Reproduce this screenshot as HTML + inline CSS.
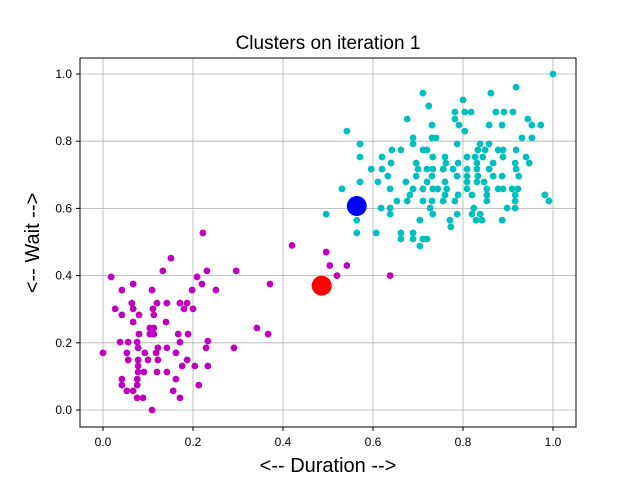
<!DOCTYPE html>
<html><head><meta charset="utf-8"><style>body{margin:0;background:#fff}svg{display:block}</style></head>
<body>
<svg id="chart" width="640" height="480" xmlns="http://www.w3.org/2000/svg" font-family="Liberation Sans, DejaVu Sans, sans-serif">
<rect width="640" height="480" fill="#fff"/>
<text x="328" y="49" font-size="19" text-anchor="middle">Clusters on iteration 1</text>
<text x="328" y="472" font-size="20" text-anchor="middle">&lt;-- Duration --&gt;</text>
<text transform="translate(39,243) rotate(-90)" font-size="20" text-anchor="middle">&lt;-- Wait --&gt;</text>
<g id="grid"></g>
<g id="pts"></g>
<rect x="80" y="58" width="496" height="369" fill="none" stroke="#000" stroke-width="1"/>
<g id="ticks"></g>
</svg>
<script>
const xTicks=[0,0.2,0.4,0.6,0.8,1.0];
const yTicks=[0,0.2,0.4,0.6,0.8,1.0];
const tickLabels=["0.0","0.2","0.4","0.6","0.8","1.0"];
const c1x=[.222,.151,.133,.231,.296,.018,.209,.22,.067,.042,.109,.198,.251,.064,.12,.142,.171,.187,.027,.067,.111,.18,.2,.042,.08,.113,.067,.14,.104,.113,.08,.104,.113,.167,.189,.038,.056,.076,.171,.233,0,.053,.078,.122,.142,.229,.291,.093,.118,.162,.056,.078,.1,.122,.187,.078,.176,.204,.233,.078,.091,.12,.142,.042,.076,.162,.042,.076,.213,.053,.067,.156,.076,.089,.171,.109,.371,.342,.367,.42,.496,.504,.52,.542,.638];
const c1y=[.527,.452,.414,.414,.414,.396,.396,.375,.375,.357,.357,.357,.357,.318,.318,.318,.318,.318,.301,.301,.301,.301,.301,.283,.283,.283,.262,.262,.244,.244,.226,.226,.226,.226,.226,.202,.202,.202,.202,.205,.170,.170,.185,.185,.185,.185,.185,.170,.170,.170,.149,.149,.149,.149,.149,.131,.131,.131,.131,.113,.113,.113,.113,.092,.092,.092,.074,.074,.074,.057,.057,.057,.036,.036,.036,0,.375,.244,.226,.49,.47,.43,.40,.43,.40];
const c2x=[1,.918,.711,.862,.8,.724,.782,.804,.818,.873,.891,.911,.676,.782,.944,.731,.791,.858,.887,.953,.973,.542,.804,.689,.731,.74,.931,.953,.571,.689,.787,.838,.858,.642,.662,.711,.72,.833,.849,.878,.889,.918,.571,.62,.733,.76,.809,.827,.844,.889,.94,.64,.696,.762,.789,.831,.867,.916,.947,.596,.62,.7,.72,.733,.756,.778,.809,.831,.858,.918,.633,.696,.731,.787,.809,.833,.867,.887,.924,.571,.611,.673,.72,.76,.809,.831,.847,.531,.638,.689,.711,.733,.744,.764,.809,.853,.878,.889,.909,.922,.682,.76,.789,.82,.853,.916,.982,.653,.676,.711,.731,.756,.782,.853,.916,.991,.618,.638,.727,.824,.898,.916,.638,.733,.787,.82,.838,.564,.704,.771,.829,.842,.887,.773,.564,.607,.662,.689,.662,.689,.711,.72,.704,.496];
const c2y=[1,.961,.943,.943,.923,.905,.887,.887,.887,.887,.887,.887,.866,.866,.866,.848,.848,.848,.848,.848,.848,.83,.83,.81,.81,.81,.81,.81,.792,.792,.792,.792,.792,.774,.774,.774,.774,.774,.774,.774,.774,.774,.753,.753,.753,.753,.753,.753,.753,.753,.753,.735,.735,.735,.735,.735,.735,.735,.735,.717,.717,.717,.717,.717,.717,.717,.717,.717,.717,.717,.696,.696,.696,.696,.696,.696,.696,.696,.696,.679,.679,.679,.679,.679,.679,.679,.679,.658,.658,.658,.658,.658,.658,.658,.658,.658,.658,.658,.658,.658,.64,.64,.64,.64,.64,.64,.64,.622,.622,.622,.622,.622,.622,.622,.622,.622,.601,.601,.601,.601,.601,.601,.583,.583,.583,.583,.583,.565,.565,.565,.565,.565,.565,.545,.527,.527,.527,.527,.509,.509,.509,.509,.488,.583];
const centX=[0.486,0.564];
const centY=[0.37,0.607];
const centColors=["#ff0000","#0000ff"];
const NS="http://www.w3.org/2000/svg";
const X=v=>103+v*450, Y=v=>410-v*336;
const grid=document.getElementById('grid'),pts=document.getElementById('pts'),ticks=document.getElementById('ticks');
function mk(tag,attrs,parent){const e=document.createElementNS(NS,tag);for(const k in attrs)e.setAttribute(k,attrs[k]);parent.appendChild(e);return e;}
xTicks.forEach((t,i)=>{
  const g=mk('line',{x1:X(t),x2:X(t),y1:58,y2:427,stroke:'#b0b0b0','stroke-width':0.8},grid);
  
  
  const tk=mk('line',{x1:X(t),x2:X(t),y1:427,y2:431,stroke:'#000'},ticks);
  
  
  const tl=mk('text',{x:X(t),y:446,'font-size':12,'text-anchor':'middle'},ticks);tl.textContent=tickLabels[i];
  
  
});
yTicks.forEach((t,i)=>{
  const g=mk('line',{x1:80,x2:576,y1:Y(t),y2:Y(t),stroke:'#b0b0b0','stroke-width':0.8},grid);
  
  
  const tk=mk('line',{x1:76,x2:80,y1:Y(t),y2:Y(t),stroke:'#000'},ticks);
  
  
  const tl=mk('text',{x:72,y:Y(t)+4,'font-size':12,'text-anchor':'end'},ticks);tl.textContent=tickLabels[i];
  
  
});
c1x.forEach((v,i)=>{const c=mk('circle',{cx:X(v),cy:Y(c1y[i]),r:3.4,fill:'#bf00bf'},pts);
  
  });
c2x.forEach((v,i)=>{const c=mk('circle',{cx:X(v),cy:Y(c2y[i]),r:3.4,fill:'#00bfbf'},pts);
  
  });
centX.forEach((v,i)=>{const c=mk('circle',{cx:X(v),cy:Y(centY[i]),r:10,fill:centColors[i]},pts);
  
  });
</script>
</body></html>
